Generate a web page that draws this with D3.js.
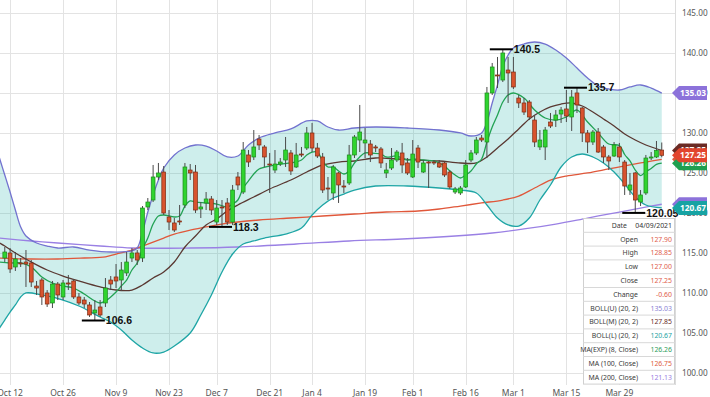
<!DOCTYPE html>
<html><head><meta charset="utf-8">
<script src="https://cdn.jsdelivr.net/npm/d3@7/dist/d3.min.js"></script>
<style>html,body{margin:0;padding:0;background:#fff;overflow:hidden}svg{display:block}</style>
</head><body>
<svg id="chart" width="710" height="397"></svg>
<script>
// ---------- DATA ----------
const dates = [
"2020-10-09","2020-10-12","2020-10-13","2020-10-14","2020-10-15","2020-10-16",
"2020-10-19","2020-10-20","2020-10-21","2020-10-22","2020-10-23",
"2020-10-26","2020-10-27","2020-10-28","2020-10-29","2020-10-30",
"2020-11-02","2020-11-03","2020-11-04","2020-11-05","2020-11-06",
"2020-11-09","2020-11-10","2020-11-11","2020-11-12","2020-11-13",
"2020-11-16","2020-11-17","2020-11-18","2020-11-19","2020-11-20",
"2020-11-23","2020-11-24","2020-11-25","2020-11-27","2020-11-30",
"2020-12-01","2020-12-02","2020-12-03","2020-12-04",
"2020-12-07","2020-12-08","2020-12-09","2020-12-10","2020-12-11",
"2020-12-14","2020-12-15","2020-12-16","2020-12-17","2020-12-18",
"2020-12-21","2020-12-22","2020-12-23","2020-12-24",
"2020-12-28","2020-12-29","2020-12-30","2020-12-31",
"2021-01-04","2021-01-05","2021-01-06","2021-01-07","2021-01-08",
"2021-01-11","2021-01-12","2021-01-13","2021-01-14","2021-01-15",
"2021-01-19","2021-01-20","2021-01-21","2021-01-22",
"2021-01-25","2021-01-26","2021-01-27","2021-01-28","2021-01-29",
"2021-02-01","2021-02-02","2021-02-03","2021-02-04","2021-02-05",
"2021-02-08","2021-02-09","2021-02-10","2021-02-11","2021-02-12",
"2021-02-16","2021-02-17","2021-02-18","2021-02-19",
"2021-02-22","2021-02-23","2021-02-24","2021-02-25","2021-02-26",
"2021-03-01","2021-03-02","2021-03-03","2021-03-04","2021-03-05",
"2021-03-08","2021-03-09","2021-03-10","2021-03-11","2021-03-12",
"2021-03-15","2021-03-16","2021-03-17","2021-03-18","2021-03-19",
"2021-03-22","2021-03-23","2021-03-24","2021-03-25","2021-03-26",
"2021-03-29","2021-03-30","2021-03-31","2021-04-01",
"2021-04-05","2021-04-06","2021-04-07","2021-04-08","2021-04-09"];

const open = [114.41,115.04,113.29,113.79,113.91,113.79,110.91,111.66,110.04,108.79,111.16,109.54,111.29,111.54,109.54,109.16,108.54,107.54,108.29,108.79,
111.66,112.04,111.66,112.54,114.41,115.04,114.41,120.79,121.66,124.54,125.16,119.54,118.79,119.04,121.04,125.41,125.16,120.54,121.29,121.79,
118.91,120.79,121.29,118.91,124.54,122.66,127.29,127.04,129.29,128.29,126.16,125.41,126.16,126.66,127.54,125.79,127.41,128.16,130.04,128.16,
127.04,123.16,122.54,125.04,123.41,123.79,127.29,129.16,128.79,128.66,128.29,128.04,125.04,125.66,126.66,127.54,126.29,124.54,128.16,125.16,
126.41,126.41,126.29,126.29,125.16,122.66,122.54,123.29,126.66,127.54,129.41,128.91,135.04,137.29,136.66,137.91,137.66,134.41,133.79,133.91,
131.66,128.29,128.29,131.41,131.66,132.41,133.04,132.04,135.04,133.16,130.04,128.91,130.16,128.29,127.04,127.16,128.29,126.41,122.91,125.04,
121.41,122.54,126.91,127.04,127.90];
const high = [115.79,115.66,115.16,114.41,115.41,114.16,111.54,111.91,110.41,111.54,111.41,111.66,112.29,111.79,110.04,109.54,108.91,109.16,109.16,111.91,
112.16,113.66,113.91,115.16,115.66,115.41,120.91,121.91,126.04,126.29,125.91,120.41,119.41,121.04,126.29,126.16,126.04,121.41,122.66,122.16,
121.66,121.66,121.91,123.54,125.16,128.91,127.91,130.41,129.79,128.54,127.54,127.91,126.91,129.54,127.91,128.79,128.29,130.79,131.29,128.79,
127.54,124.54,126.04,125.16,124.16,128.54,129.79,133.54,130.66,129.16,128.54,128.29,126.29,128.16,127.91,128.79,126.91,129.16,128.54,126.66,
126.54,126.66,126.66,126.41,125.41,123.29,123.41,126.66,127.91,129.54,129.79,135.79,138.79,139.54,140.50,139.54,139.54,134.79,134.41,134.16,
132.29,130.41,130.79,132.54,132.91,133.29,135.41,135.41,135.70,133.29,130.41,130.41,130.66,128.54,127.29,128.91,128.79,126.66,125.04,125.16,
122.91,127.29,127.66,129.04,128.85];
const low = [113.91,112.54,112.79,113.29,110.79,110.79,109.79,108.54,108.29,108.16,109.16,109.16,110.41,109.29,108.54,108.16,107.04,106.60,107.04,108.29,
110.41,110.66,110.29,112.16,113.91,113.54,113.91,120.41,121.41,124.16,119.79,117.91,117.66,118.54,120.66,124.16,120.04,119.41,120.41,119.79,
118.54,118.30,118.54,118.54,122.91,122.41,125.79,126.66,127.91,125.79,122.54,125.04,125.91,125.79,124.79,125.66,127.04,127.91,127.66,126.91,
122.54,121.66,121.66,121.29,122.54,123.54,126.91,127.66,126.91,126.41,127.66,125.66,124.41,125.41,126.41,125.04,124.79,124.41,125.66,125.04,
123.16,126.04,125.66,124.54,123.04,122.41,122.29,123.16,126.41,127.29,128.91,126.91,134.79,135.66,136.41,133.79,135.54,133.16,132.29,131.66,
128.29,127.91,126.66,130.66,130.79,131.29,131.41,130.29,132.54,128.91,127.54,128.54,127.54,126.29,125.41,127.04,126.41,122.29,122.29,120.05,
120.91,122.29,126.66,126.91,127.00];
const close = [115.16,113.04,114.29,113.74,113.66,111.41,110.66,109.54,108.66,111.16,109.79,111.29,111.16,109.54,108.79,108.66,107.29,107.91,107.29,110.66,
111.16,111.54,112.91,113.91,115.04,114.16,120.66,121.41,124.54,125.04,120.04,118.91,117.91,118.97,125.79,125.04,120.41,120.79,121.79,120.41,
120.66,120.72,118.91,122.91,123.54,127.91,126.41,128.29,128.54,127.04,126.10,126.16,126.41,127.91,125.29,127.29,127.35,130.04,128.16,127.16,
122.91,123.10,125.79,123.54,123.35,127.29,129.54,130.16,129.16,127.29,128.22,126.29,125.41,126.66,127.66,126.04,125.04,127.41,126.41,126.29,
126.29,126.35,125.79,124.79,123.29,123.04,123.16,126.04,127.54,129.16,129.16,135.04,138.29,137.22,140.04,137.54,135.79,133.79,132.66,132.04,
128.91,129.16,130.41,130.91,132.29,132.91,132.16,134.54,133.54,130.04,128.91,130.16,127.66,127.04,126.54,128.54,127.04,123.41,123.54,121.66,
122.29,126.91,127.04,127.85,127.25];

// tick labels of the date axis
const tickDates  = ["2020-10-12","2020-10-26","2020-11-09","2020-11-23","2020-12-07","2020-12-21","2021-01-04","2021-01-19","2021-02-01","2021-02-16","2021-03-01","2021-03-15","2021-03-29"];
const tickLabels = ["Oct 12","Oct 26","Nov 9","Nov 23","Dec 7","Dec 21","Jan 4","Jan 19","Feb 1","Feb 16","Mar 1","Mar 15","Mar 29"];
const priceTicks = [100,105,110,115,120,125,130,135,140,145];

// indicator series: [session index (-1 = session before the first candle), value]
const bollUpper = [[-1,126.91],[0,124.79],[1,122.66],[2,120.41],[3,118.29],[4,117.16],[6,116.29],[8,115.91],[10,115.66],[13,115.79],[16,115.41],[20,115.16],[24,115.29],[25,115.66],[26,117.66],[27,120.16],[28,122.29],[29,124.16],[30,125.66],[32,127.29],[34,128.16],[36,128.54],[38,128.41],[40,127.79],[42,127.04],[44,127.16],[46,128.54],[48,129.41],[51,130.04],[54,130.54],[57,131.54],[59,131.54],[61,130.79],[63,130.41],[66,130.66],[70,130.79],[76,130.66],[82,130.41],[86,130.04],[88,129.66],[90,130.04],[91,131.41],[92,133.79],[93,136.04],[94,138.41],[95,139.79],[96,140.66],[98,141.16],[100,141.41],[102,141.16],[104,140.41],[106,139.41],[108,138.16],[110,136.91],[112,135.91],[114,135.54],[116,135.41],[118,135.79],[120,136.04],[122,135.66],[124,135.03]];
const bollMid = [[-1,116.29],[0,115.91],[2,115.04],[5,113.91],[8,112.91],[11,112.16],[14,111.54],[18,110.79],[21,110.41],[24,110.41],[26,111.04],[28,111.91],[30,112.66],[32,113.91],[34,115.79],[36,117.16],[38,118.54],[40,119.29],[42,120.29],[44,121.04],[47,122.04],[50,123.04],[54,124.16],[57,125.16],[60,126.04],[63,126.41],[66,126.54],[70,126.91],[74,126.79],[78,126.66],[82,126.54],[86,126.29],[89,126.29],[91,127.04],[93,128.16],[95,129.29],[97,130.54],[99,131.79],[101,132.66],[103,133.29],[105,133.66],[107,133.79],[109,133.41],[111,132.66],[113,131.79],[115,130.91],[117,129.91],[119,129.16],[121,128.54],[124,127.85]];
const bollLower = [[-1,105.66],[0,106.66],[1,107.66],[2,108.54],[3,109.54],[4,110.04],[7,109.79],[11,109.16],[14,108.41],[18,107.04],[20,106.41],[22,105.41],[24,104.16],[26,103.16],[28,102.54],[30,102.66],[32,103.41],[35,105.04],[37,107.29],[39,109.79],[41,112.66],[43,114.91],[45,116.16],[47,116.54],[49,116.91],[53,117.41],[56,118.16],[58,119.79],[60,121.04],[62,121.91],[64,122.41],[66,122.91],[70,123.41],[76,123.41],[82,123.16],[86,122.91],[89,122.54],[91,121.04],[93,119.41],[95,118.54],[97,118.41],[99,119.41],[101,121.66],[103,123.54],[105,125.79],[107,127.04],[109,127.41],[111,127.04],[113,126.29],[115,125.16],[117,123.66],[119,122.04],[121,121.04],[124,120.67]];
const emaClose8 = [[-1,113.91],[1,113.79],[3,113.79],[5,113.29],[7,112.04],[9,111.29],[11,110.91],[13,110.66],[15,109.91],[17,109.04],[18,108.79],[19,109.04],[20,109.54],[21,110.16],[22,110.91],[23,111.66],[24,112.91],[25,113.79],[26,115.54],[27,116.91],[28,118.66],[29,119.66],[30,119.79],[32,119.54],[33,119.66],[34,120.91],[35,121.54],[36,121.41],[38,121.29],[40,121.16],[42,120.79],[43,121.16],[44,121.66],[45,123.16],[46,124.04],[47,124.91],[48,125.54],[50,125.91],[52,126.16],[54,126.29],[56,126.66],[57,127.29],[58,127.66],[59,127.66],[60,126.54],[61,125.79],[62,125.79],[63,125.29],[64,124.91],[65,125.29],[66,126.29],[67,127.04],[68,127.54],[69,127.54],[71,127.41],[72,127.04],[74,127.16],[76,126.66],[77,126.79],[79,126.66],[81,126.54],[82,126.29],[83,125.91],[84,125.29],[85,124.79],[86,124.41],[87,124.79],[88,125.29],[89,126.16],[90,126.79],[91,128.91],[92,130.79],[93,132.29],[94,133.91],[95,134.79],[96,135.04],[98,134.41],[100,132.91],[102,131.91],[104,131.66],[106,132.04],[108,132.91],[110,131.41],[112,130.04],[114,128.66],[116,128.47],[117,127.35],[118,126.54],[119,125.41],[120,124.72],[121,125.21],[122,125.61],[123,126.12],[124,126.26]];
const ma100 = [[-1,114.41],[5,114.29],[10,114.29],[15,114.41],[19,114.54],[21,114.91],[24,115.41],[26,115.91],[28,116.41],[30,116.91],[32,117.41],[35,117.91],[38,118.29],[41,118.66],[44,118.91],[48,119.16],[54,119.41],[60,119.66],[66,119.91],[72,120.16],[78,120.29],[82,120.54],[86,120.91],[90,121.29],[94,121.66],[97,122.16],[100,123.16],[103,124.16],[106,124.66],[110,125.04],[114,125.54],[118,126.04],[121,126.41],[124,126.75]];
const ma200 = [[-1,116.91],[5,116.54],[10,116.29],[18,115.91],[24,115.66],[35,115.66],[44,115.79],[55,116.16],[65,116.54],[75,116.79],[85,117.16],[92,117.54],[98,118.04],[104,118.66],[110,119.41],[116,120.16],[120,120.66],[124,121.13]];

// high / low annotations: session index and price
const markIdx = [17, 41, 94, 108, 119];
const markVal = [106.6, 118.3, 140.5, 135.7, 120.05];

// info table
const tableLabels = ["Date","Open","High","Low","Close","Change","BOLL(U) (20, 2)","BOLL(M) (20, 2)","BOLL(L) (20, 2)","MA(EXP) (8, Close)","MA (100, Close)","MA (200, Close)"];
const tableValues = ["04/09/2021","127.90","128.85","127.00","127.25","-0.60","135.03","127.85","120.67","126.26","126.75","121.13"];

// ---------- STYLE ----------
const C = {
  grid:"#e3e3e3", fill:"rgba(32,178,170,0.22)",
  up:"#2fd42f", upStroke:"#1b8a1b", dn:"#d8532e", dnStroke:"#7d2b12", wick:"#4a4a4a",
  bU:"#7272cf", bM:"#5a3832", bL:"#1ea5a5", ema:"#22a254", m100:"#e0573a", m200:"#9a80e4",
  text:"#555"
};
const valueColors = ["#333","#e0604c","#e0604c","#e0604c","#e0604c","#e0604c","#8a82d4","#6a2c28","#1ea3a3","#2e9e5c","#e0603e","#9a80e2"];

const svg = d3.select("#chart");
const PW = 675, PB = 385;
const x = d3.scaleLinear().domain([-0.9, 126.5]).range([0, PW]);
const y = d3.scaleLinear().domain([100, 145]).range([373.3, 13.3]);
const idx = d => dates.indexOf(d);

svg.append("defs").append("clipPath").attr("id","clip").append("rect")
  .attr("x",0).attr("y",0).attr("width",PW).attr("height",PB);

// grid
const g = svg.append("g");
g.selectAll("line.h").data(priceTicks).join("line")
  .attr("x1",0).attr("x2",PW).attr("y1",d=>Math.round(y(d))+0.5).attr("y2",d=>Math.round(y(d))+0.5)
  .attr("stroke",C.grid).attr("stroke-width",1);
g.selectAll("line.v").data(tickDates).join("line")
  .attr("x1",d=>Math.round(x(idx(d)))+0.5).attr("x2",d=>Math.round(x(idx(d)))+0.5)
  .attr("y1",0).attr("y2",PB).attr("stroke",C.grid).attr("stroke-width",1);
g.append("line").attr("x1",PW+0.5).attr("x2",PW+0.5).attr("y1",0).attr("y2",PB).attr("stroke","#dcdcdc");

const plot = svg.append("g").attr("clip-path","url(#clip)");
const curve = d3.curveCatmullRom.alpha(0.5);
const line = d3.line().x(d=>x(d[0])).y(d=>y(d[1])).curve(curve);

// band fill
const up = line(bollUpper);
const lowRev = line(bollLower.slice().reverse());
plot.append("path").attr("d", up + "L" + lowRev.slice(1) + "Z").attr("fill",C.fill).attr("stroke","none");

// indicator lines
[[ma200,C.m200],[ma100,C.m100],[bollUpper,C.bU],[bollLower,C.bL],[bollMid,C.bM],[emaClose8,C.ema]].forEach(([s,c])=>{
  plot.append("path").attr("d",line(s)).attr("fill","none").attr("stroke",c).attr("stroke-width",1.3);
});

// y labels (drawn before the badges, which cover some of them as in the original)
svg.selectAll("text.yl").data(priceTicks).join("text")
  .attr("x",682).attr("y",d=>y(d)).attr("dy","0.35em")
  .attr("font-family","Noto Sans, sans-serif").attr("font-size",8.2).attr("fill",C.text)
  .text(d=>d3.format(".2f")(d));

// candles
const bw = 3.8;
const cg = plot.append("g");
dates.forEach((d,i)=>{
  const cx = x(i);
  const isUp = close[i] >= open[i];
  cg.append("line").attr("x1",cx).attr("x2",cx).attr("y1",y(high[i])).attr("y2",y(low[i]))
    .attr("stroke",C.wick).attr("stroke-width",1);
  const top = y(Math.max(open[i],close[i])), bot = y(Math.min(open[i],close[i]));
  cg.append("rect").attr("x",cx-bw/2).attr("y",top).attr("width",bw).attr("height",Math.max(1,bot-top))
    .attr("fill",isUp?C.up:C.dn).attr("stroke",isUp?C.upStroke:C.dnStroke).attr("stroke-width",0.7);
});

// annotations
markIdx.forEach((k,j)=>{
  const cx = x(k), cy = y(markVal[j]);
  svg.append("line").attr("x1",cx-13).attr("x2",cx+10).attr("y1",cy).attr("y2",cy)
    .attr("stroke","#000").attr("stroke-width",2);
  svg.append("text").attr("x",cx+11).attr("y",cy).attr("dy","0.36em")
    .attr("font-family","Liberation Sans, Arial, sans-serif").attr("font-weight","bold")
    .attr("font-size",10.5).attr("fill","#111").text(String(markVal[j]));
});

// x labels
svg.selectAll("text.xl").data(tickDates).join("text")
  .attr("x",d=>x(idx(d))).attr("y",393).attr("dy","0.35em").attr("text-anchor","middle")
  .attr("font-family","Noto Sans, sans-serif").attr("font-size",8.5).attr("fill",C.text)
  .text((d,i)=>tickLabels[i]);

// table
const tx0 = 583, tx1 = 675, ty0 = 218.5, rh = 13.8;
const tg = svg.append("g");
tg.append("rect").attr("x",tx0+0.5).attr("y",ty0).attr("width",tx1-tx0-1).attr("height",rh*tableLabels.length)
  .attr("fill","#fff").attr("stroke","#d0d0d0");
tableLabels.forEach((lab,r)=>{
  const ry = ty0 + r*rh;
  if(r>0) tg.append("line").attr("x1",tx0).attr("x2",tx1).attr("y1",ry).attr("y2",ry).attr("stroke","#d8d8d8");
  tg.append("text").attr("x",r===0?627:638).attr("y",ry+rh/2).attr("dy","0.35em").attr("text-anchor","end")
    .attr("font-family","Noto Sans, sans-serif").attr("font-size",6.9).attr("fill","#3a3a3a").text(lab);
  tg.append("text").attr("x",672).attr("y",ry+rh/2).attr("dy","0.35em").attr("text-anchor","end")
    .attr("font-family","Noto Sans, sans-serif").attr("font-size",6.9).attr("fill",valueColors[r]).text(tableValues[r]);
});

// right-side value badges
const last = s => s[s.length-1][1];
const badges = [
  [last(ma200), "#8c72da"],
  [last(ma100), "#e0573a"],
  [last(bollMid), "#6b2a24"],
  [last(emaClose8), "#1f9f4f"],
  [last(bollUpper), "#8c72da"],
  [last(bollLower), "#17a3a3"],
  [close[close.length-1], "#e2452e"]
];
const bh = 14;
badges.forEach(([v,c])=>{
  const cy = y(v);
  svg.append("path").attr("d",`M672,${cy}L679,${cy-bh/2}L707,${cy-bh/2}L707,${cy+bh/2}L679,${cy+bh/2}Z`).attr("fill",c);
  svg.append("text").attr("x",693).attr("y",cy).attr("dy","0.36em").attr("text-anchor","middle")
    .attr("font-family","Noto Sans, sans-serif").attr("font-weight","bold").attr("font-size",8.3).attr("fill","#fff")
    .text(d3.format(".2f")(v));
});
</script>
</body></html>
